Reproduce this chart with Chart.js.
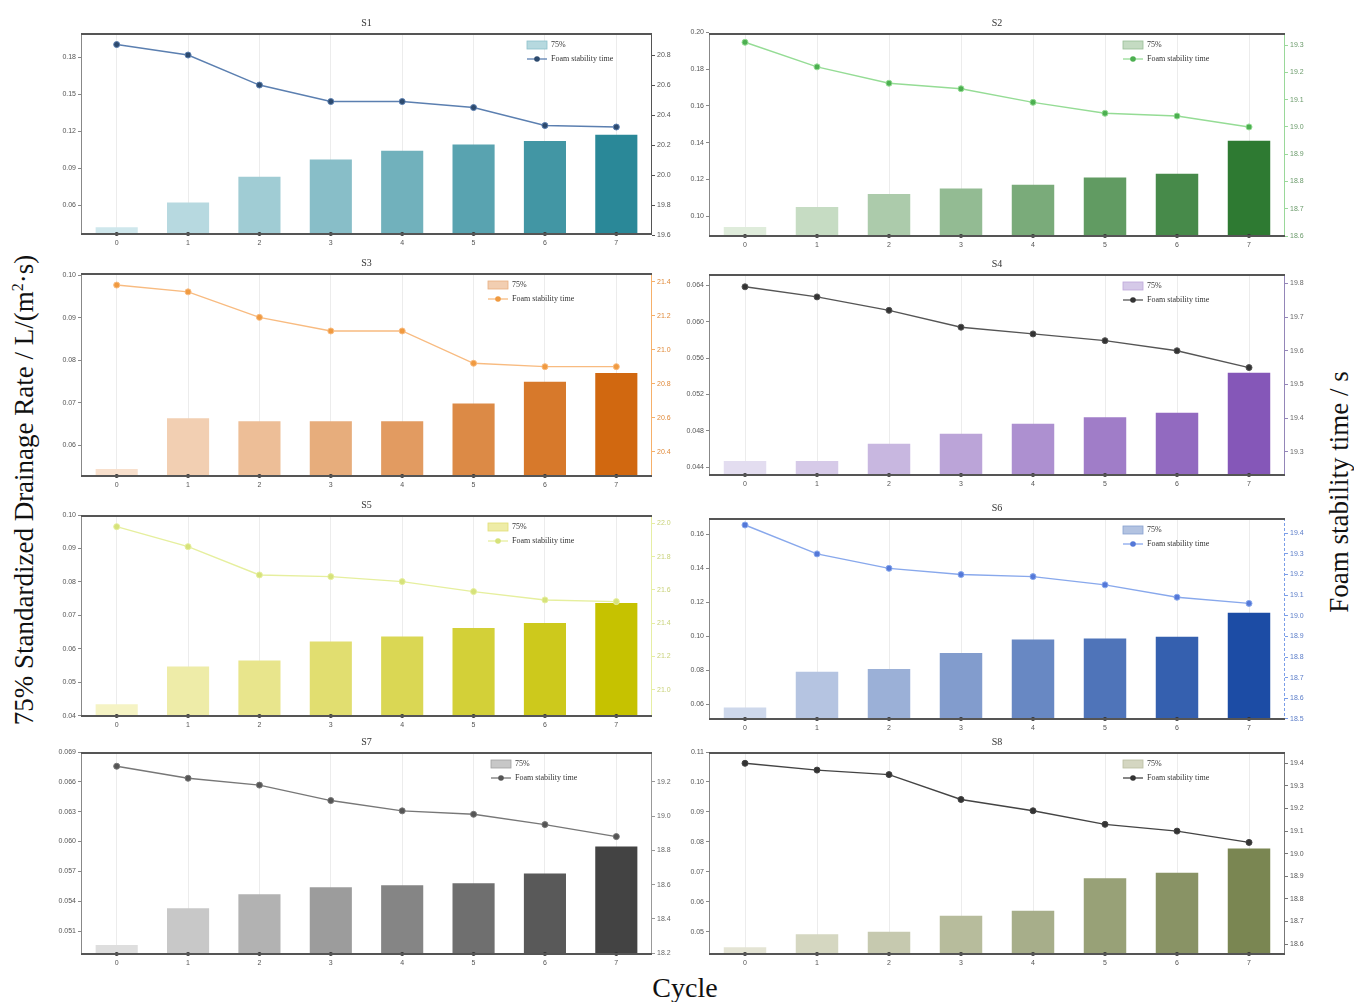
<!DOCTYPE html>
<html>
<head>
<meta charset="utf-8">
<script src="https://cdn.jsdelivr.net/npm/chart.js@4.4.1/dist/chart.umd.min.js"></script>
<style>
  body { margin: 0; background: #fff; width: 1354px; height: 1002px; position: relative; overflow: hidden; font-family: "Liberation Serif", "Times New Roman", serif; }
  canvas { position: absolute; }
  .ttl { position: absolute; font-size: 10px; color: #333; transform: translate(-50%, -50%); }
  .lab { position: absolute; font-size: 27px; color: #111; white-space: nowrap; transform: translate(-50%, -50%); }
  .rot { transform: translate(-50%, -50%) rotate(-90deg); }
</style>
</head>
<body>
<div class="lab rot" style="left:24px;top:490px">75% Standardized Drainage Rate / L/(m<sup style="font-size:16px">2</sup>·s)</div>
<div class="lab rot" style="left:1339px;top:492px">Foam stability time / s</div>
<div class="lab" style="left:685px;top:988px;font-size:28px">Cycle</div>

<script>
// cycles on the x axis
const cycles = ['0', '1', '2', '3', '4', '5', '6', '7'];

// 75% standardized drainage rate, L/(m2·s)
const drainS1 = [0.042, 0.062, 0.083, 0.097, 0.104, 0.109, 0.112, 0.117];
const drainS2 = [0.094, 0.105, 0.112, 0.115, 0.117, 0.121, 0.123, 0.141];
const drainS3 = [0.0544, 0.0663, 0.0656, 0.0656, 0.0656, 0.0698, 0.0749, 0.0770];
const drainS4 = [0.0447, 0.0447, 0.0466, 0.0477, 0.0488, 0.0495, 0.0500, 0.0544];
const drainS5 = [0.0434, 0.0547, 0.0565, 0.0622, 0.0637, 0.0662, 0.0677, 0.0737];
const drainS6 = [0.0582, 0.0792, 0.0808, 0.0902, 0.0982, 0.0988, 0.0998, 0.1139];
const drainS7 = [0.0496, 0.0533, 0.0547, 0.0554, 0.0556, 0.0558, 0.0568, 0.0595];
const drainS8 = [0.0448, 0.0491, 0.0500, 0.0553, 0.0570, 0.0678, 0.0697, 0.0778];

// foam stability time, s
const foamS1 = [20.87, 20.80, 20.60, 20.49, 20.49, 20.45, 20.33, 20.32];
const foamS2 = [19.31, 19.22, 19.16, 19.14, 19.09, 19.05, 19.04, 19.00];
const foamS3 = [21.38, 21.34, 21.19, 21.11, 21.11, 20.92, 20.90, 20.90];
const foamS4 = [19.79, 19.76, 19.72, 19.67, 19.65, 19.63, 19.60, 19.55];
const foamS5 = [21.98, 21.86, 21.69, 21.68, 21.65, 21.59, 21.54, 21.53];
const foamS6 = [19.44, 19.30, 19.23, 19.20, 19.19, 19.15, 19.09, 19.06];
const foamS7 = [19.29, 19.22, 19.18, 19.09, 19.03, 19.01, 18.95, 18.88];
const foamS8 = [19.40, 19.37, 19.35, 19.24, 19.19, 19.13, 19.10, 19.05];

// tick labels, left (rate) and right (time)
const rateTicksS1 = [0.06, 0.09, 0.12, 0.15, 0.18];
const rateTicksS2 = [0.10, 0.12, 0.14, 0.16, 0.18, 0.20];
const rateTicksS3 = [0.06, 0.07, 0.08, 0.09, 0.10];
const rateTicksS4 = [0.044, 0.048, 0.052, 0.056, 0.060, 0.064];
const rateTicksS5 = [0.04, 0.05, 0.06, 0.07, 0.08, 0.09, 0.10];
const rateTicksS6 = [0.06, 0.08, 0.10, 0.12, 0.14, 0.16];
const rateTicksS7 = [0.051, 0.054, 0.057, 0.060, 0.063, 0.066, 0.069];
const rateTicksS8 = [0.05, 0.06, 0.07, 0.08, 0.09, 0.10, 0.11];

const timeTicksS1 = [19.6, 19.8, 20.0, 20.2, 20.4, 20.6, 20.8];
const timeTicksS2 = [18.6, 18.7, 18.8, 18.9, 19.0, 19.1, 19.2, 19.3];
const timeTicksS3 = [20.4, 20.6, 20.8, 21.0, 21.2, 21.4];
const timeTicksS4 = [19.3, 19.4, 19.5, 19.6, 19.7, 19.8];
const timeTicksS5 = [21.0, 21.2, 21.4, 21.6, 21.8, 22.0];
const timeTicksS6 = [18.5, 18.6, 18.7, 18.8, 18.9, 19.0, 19.1, 19.2, 19.3, 19.4];
const timeTicksS7 = [18.2, 18.4, 18.6, 18.8, 19.0, 19.2];
const timeTicksS8 = [18.6, 18.7, 18.8, 18.9, 19.0, 19.1, 19.2, 19.3, 19.4];

const panels = [
  { name: 'S1', box: [81, 33, 652, 235], rate: drainS1, time: foamS1, rateTicks: rateTicksS1, timeTicks: timeTicksS1,
    rateRange: [0.0357, 0.1995], timeRange: [19.6, 20.947], dec: 2,
    from: '#cfe7ec', to: '#2a8898', line: '#5b7fb0', marker: '#2d4a6e', axis: '#555', tick: '#555', legendX: 446 },
  { name: 'S2', box: [709, 33, 1285, 237], rate: drainS2, time: foamS2, rateTicks: rateTicksS2, timeTicks: timeTicksS2,
    rateRange: [0.0886, 0.1997], timeRange: [18.597, 19.344], dec: 2,
    from: '#dfecdb', to: '#2e7a32', line: '#95dc95', marker: '#4caf50', axis: '#9ad89a', tick: '#6a9a6a', legendX: 414 },
  { name: 'S3', box: [81, 273, 652, 477], rate: drainS3, time: foamS3, rateTicks: rateTicksS3, timeTicks: timeTicksS3,
    rateRange: [0.0525, 0.1005], timeRange: [20.251, 21.451], dec: 2,
    from: '#f8e0cd', to: '#d16810', line: '#f8bb80', marker: '#f09a40', axis: '#f6b06a', tick: '#e08a3a', legendX: 407 },
  { name: 'S4', box: [709, 274, 1285, 476], rate: drainS4, time: foamS4, rateTicks: rateTicksS4, timeTicks: timeTicksS4,
    rateRange: [0.04305, 0.06523], timeRange: [19.228, 19.828], dec: 3,
    from: '#e3ddf0', to: '#8557b8', line: '#555', marker: '#333', axis: '#9486b8', tick: '#666', legendX: 414 },
  { name: 'S5', box: [81, 515, 652, 717], rate: drainS5, time: foamS5, rateTicks: rateTicksS5, timeTicks: timeTicksS5,
    rateRange: [0.0396, 0.1], timeRange: [20.837, 22.05], dec: 2,
    from: '#f5f3c4', to: '#c6c200', line: '#e6ef9e', marker: '#d6e27a', axis: '#e6eea4', tick: '#c9d27a', legendX: 407 },
  { name: 'S6', box: [709, 518, 1285, 720], rate: drainS6, time: foamS6, rateTicks: rateTicksS6, timeTicks: timeTicksS6,
    rateRange: [0.0508, 0.1697], timeRange: [18.495, 19.474], dec: 2,
    from: '#ced8eb', to: '#1c4ca5', line: '#88a8ec', marker: '#5478d8', axis: '#7c9ee8', tick: '#5a7cc8', legendX: 414, dashed: true },
  { name: 'S7', box: [81, 752, 652, 955], rate: drainS7, time: foamS7, rateTicks: rateTicksS7, timeTicks: timeTicksS7,
    rateRange: [0.0486, 0.069], timeRange: [18.19, 19.373], dec: 3,
    from: '#dedede', to: '#434343', line: '#777', marker: '#555', axis: '#999', tick: '#666', legendX: 410 },
  { name: 'S8', box: [709, 752, 1285, 955], rate: drainS8, time: foamS8, rateTicks: rateTicksS8, timeTicks: timeTicksS8,
    rateRange: [0.0422, 0.110], timeRange: [18.552, 19.45], dec: 2,
    from: '#e4e4d4', to: '#7a8652', line: '#444', marker: '#333', axis: '#777', tick: '#555', legendX: 414 }
];

function hex(c) { return [1, 3, 5].map(i => parseInt(c.slice(i, i + 2), 16)); }
function mix(a, b, t) {
  const p = hex(a), q = hex(b);
  return 'rgb(' + p.map((v, i) => Math.round(v + (q[i] - v) * t)).join(',') + ')';
}

// frame, baseline marks and the in-plot legend
const panelDecor = {
  id: 'panelDecor',
  afterDraw(chart) {
    const p = chart.options.plugins.panelDecor.p;
    const { ctx, chartArea: a } = chart;
    const xs = chart.scales.x;
    ctx.save();

    ctx.fillStyle = '#333';
    cycles.forEach((c, i) => {
      const x = xs.getPixelForValue(i);
      ctx.beginPath();
      ctx.arc(x, a.bottom - 1, 2, 0, Math.PI * 2);
      ctx.fill();
    });

    ctx.strokeStyle = '#888';
    ctx.lineWidth = 1;
    ctx.beginPath(); ctx.moveTo(a.left + 0.5, a.top); ctx.lineTo(a.left + 0.5, a.bottom); ctx.stroke();
    ctx.strokeStyle = p.axis;
    if (p.dashed) ctx.setLineDash([3, 2]);
    ctx.beginPath(); ctx.moveTo(a.right - 0.5, a.top); ctx.lineTo(a.right - 0.5, a.bottom); ctx.stroke();
    ctx.setLineDash([]);
    ctx.strokeStyle = '#555';
    ctx.lineWidth = 2;
    ctx.beginPath(); ctx.moveTo(a.left, a.top + 1); ctx.lineTo(a.right, a.top + 1); ctx.stroke();
    ctx.beginPath(); ctx.moveTo(a.left, a.bottom - 1); ctx.lineTo(a.right, a.bottom - 1); ctx.stroke();

    const lx = a.left + p.legendX, y1 = a.top + 12, y2 = a.top + 26;
    ctx.fillStyle = mix(p.from, p.to, 0.15);
    ctx.fillRect(lx, y1 - 4, 20, 8);
    ctx.strokeStyle = mix(p.from, p.to, 0.4);
    ctx.lineWidth = 0.8;
    ctx.strokeRect(lx, y1 - 4, 20, 8);
    ctx.strokeStyle = p.line;
    ctx.lineWidth = 1.3;
    ctx.beginPath(); ctx.moveTo(lx, y2); ctx.lineTo(lx + 20, y2); ctx.stroke();
    ctx.fillStyle = p.marker;
    ctx.beginPath(); ctx.arc(lx + 10, y2, 2.8, 0, Math.PI * 2); ctx.fill();
    ctx.fillStyle = '#333';
    ctx.font = '8px "Liberation Serif", serif';
    ctx.textBaseline = 'middle';
    ctx.fillText('75%', lx + 24, y1);
    ctx.fillText('Foam stability time', lx + 24, y2);
    ctx.restore();
  }
};

const PAD_L = 38, PAD_R = 38, PAD_T = 8, PAD_B = 16;

panels.forEach(p => {
  const [L, T, R, B] = p.box;
  const cv = document.createElement('canvas');
  cv.width = R - L + PAD_L + PAD_R;
  cv.height = B - T + PAD_T + PAD_B;
  cv.style.left = (L - PAD_L) + 'px';
  cv.style.top = (T - PAD_T) + 'px';
  document.body.appendChild(cv);

  const ttl = document.createElement('div');
  ttl.className = 'ttl';
  ttl.textContent = p.name;
  ttl.style.left = ((L + R) / 2) + 'px';
  ttl.style.top = (T - 11) + 'px';
  document.body.appendChild(ttl);

  const tickFont = { size: 7, family: '"Liberation Sans", sans-serif' };

  new Chart(cv, {
    data: {
      labels: cycles,
      datasets: [
        {
          type: 'line',
          label: 'Foam stability time',
          data: p.time,
          yAxisID: 'y1',
          borderColor: p.line,
          borderWidth: 1.4,
          pointRadius: 3,
          pointBackgroundColor: p.marker,
          pointBorderColor: p.line,
          pointBorderWidth: 1,
          tension: 0,
          order: 0
        },
        {
          type: 'bar',
          label: '75%',
          data: p.rate,
          yAxisID: 'y',
          backgroundColor: cycles.map((c, i) => mix(p.from, p.to, i / (cycles.length - 1))),
          barPercentage: 0.59,
          categoryPercentage: 1,
          order: 1
        }
      ]
    },
    options: {
      responsive: false,
      animation: false,
      devicePixelRatio: 1,
      layout: { padding: { top: PAD_T, left: 0, right: 0, bottom: 0 } },
      plugins: {
        legend: { display: false },
        tooltip: { enabled: false },
        panelDecor: { p }
      },
      scales: {
        x: {
          type: 'category',
          offset: true,
          grid: { offset: false, color: '#ececec', drawTicks: false },
          border: { display: false },
          ticks: { font: tickFont, color: '#555', padding: 4 },
          afterFit(s) { s.height = PAD_B; }
        },
        y: {
          position: 'left',
          min: p.rateRange[0],
          max: p.rateRange[1],
          afterBuildTicks(s) { s.ticks = p.rateTicks.map(v => ({ value: v })); },
          ticks: { font: tickFont, color: '#555', padding: 2, callback: v => v.toFixed(p.dec) },
          grid: { drawOnChartArea: false, tickLength: 3, color: '#888' },
          border: { display: false },
          afterFit(s) { s.width = PAD_L; }
        },
        y1: {
          position: 'right',
          min: p.timeRange[0],
          max: p.timeRange[1],
          afterBuildTicks(s) { s.ticks = p.timeTicks.map(v => ({ value: v })); },
          ticks: { font: tickFont, color: p.tick, padding: 2, callback: v => v.toFixed(1) },
          grid: { drawOnChartArea: false, tickLength: 3, color: p.axis },
          border: { display: false },
          afterFit(s) { s.width = PAD_R; }
        }
      }
    },
    plugins: [panelDecor]
  });
});
</script>
</body>
</html>
